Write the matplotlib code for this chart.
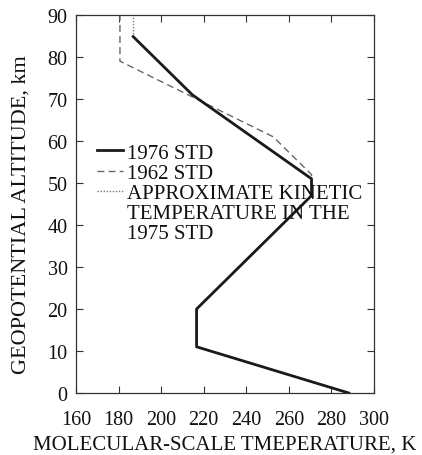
import numpy as np
import matplotlib.pyplot as plt

plt.rcParams['font.family'] = ['Liberation Serif', 'DejaVu Serif']

# 1976 standard atmosphere (geopotential altitude, km / temperature, K)
alt_1976 = [0, 11, 20, 47, 51, 71, 84.85]
temp_1976 = [288.15, 216.65, 216.65, 270.65, 270.65, 214.65, 186.87]

# 1962 standard atmosphere
alt_1962 = [0, 11, 20, 47, 52, 61, 79, 90]
temp_1962 = [288.15, 216.65, 216.65, 270.65, 270.65, 252.65, 180.65, 180.65]

# approximate kinetic temperature above 84.85 km
alt_kin = [84.85, 90]
temp_kin = [186.87, 186.87]

x_ticks = [160, 180, 200, 220, 240, 260, 280, 300]
y_ticks = [0, 10, 20, 30, 40, 50, 60, 70, 80, 90]

fig = plt.figure(figsize=(4.22, 4.56), dpi=100)
ax = fig.add_axes([76/422, 62/456, 298/422, 378/456])

ax.plot(temp_1976, alt_1976, color='#1a1a1a', linewidth=2.0, label='1976 STD', zorder=3)
ax.plot(temp_1962, alt_1962, color='#666666', linewidth=1.0, linestyle=(0, (5, 3)), label='1962 STD', zorder=2)
ax.plot(temp_kin, alt_kin, color='#777777', linewidth=1.0, linestyle=(0, (1, 1.2)),
        label='APPROXIMATE KINETIC', zorder=2)

ax.set_xlim(160, 300)
ax.set_ylim(0, 90)
ax.set_xticks(x_ticks)
ax.set_yticks(y_ticks)
ax.tick_params(direction='in', top=True, right=True, labelsize=14.5, length=5, width=0.8,
               colors='#333333', labelcolor='#111111')
ax.tick_params(axis='x', pad=12)
ax.tick_params(axis='y', pad=6)
for s in ax.spines.values():
    s.set_color('#333333')
    s.set_linewidth(0.9)

ax.set_xlabel('MOLECULAR-SCALE TMEPERATURE, K', fontsize=15, color='#111111', labelpad=4)
ax.set_ylabel('GEOPOTENTIAL ALTITUDE, km', fontsize=16, color='#111111')
ax.yaxis.set_label_coords(-0.154, 0.474)

leg = ax.legend(loc='upper left', bbox_to_anchor=(97/422, (456-144)/456),
                bbox_transform=fig.transFigure, frameon=False, fontsize=15,
                handlelength=1.25, handletextpad=0.2, labelspacing=0.04,
                borderpad=0, borderaxespad=0)
for t in leg.get_texts():
    t.set_color('#111111')
fig.text(127/422, (456-205)/456, 'TEMPERATURE IN THE\n1975 STD', fontsize=15,
         color='#111111', va='top', ha='left', linespacing=1.05)

fig.savefig('out.png', dpi=100)
